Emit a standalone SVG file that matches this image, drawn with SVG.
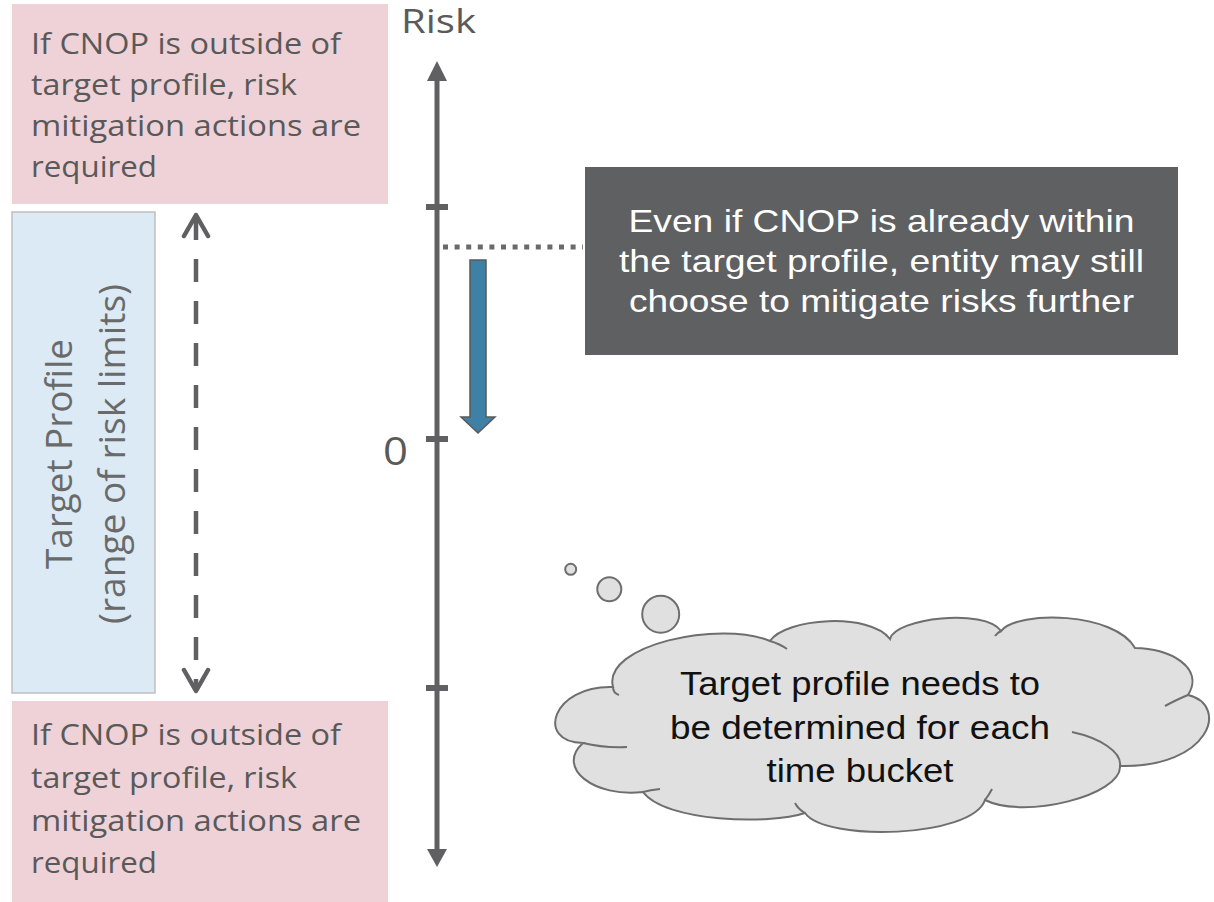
<svg xmlns="http://www.w3.org/2000/svg" width="1214" height="902" viewBox="0 0 1214 902">
<style>
.pink{fill:#efd2d7}
.ptxt{font-family:"Open Sans","DejaVu Sans",sans-serif;font-size:29.5px;fill:#595959}
.rtxt{font-family:"Open Sans","DejaVu Sans",sans-serif;font-size:36px;fill:#6a6a6a;text-anchor:middle}
.axis{stroke:#606063;stroke-width:5;fill:none}
.tick{stroke:#606063;stroke-width:6}
.head{fill:#606063}
.dtxt{font-family:"Liberation Sans",Arial,sans-serif;font-size:30.5px;fill:#ffffff;text-anchor:middle}
.ctxt{font-family:"Liberation Sans",Arial,sans-serif;font-size:32.5px;fill:#111111;text-anchor:middle}
.cloud{fill:#e0e0e0;stroke:#6e6e6e;stroke-width:2}
.inner{fill:none;stroke:#6e6e6e;stroke-width:2}
</style>
<rect width="1214" height="902" fill="#ffffff"/>

<g id="top-note">
<rect class="pink" x="12" y="4" width="376" height="200"/>
<text class="ptxt" x="31" y="54" textLength="310" lengthAdjust="spacingAndGlyphs">If CNOP is outside of</text>
<text class="ptxt" x="31" y="95" textLength="266" lengthAdjust="spacingAndGlyphs">target profile, risk</text>
<text class="ptxt" x="31" y="136" textLength="330" lengthAdjust="spacingAndGlyphs">mitigation actions are</text>
<text class="ptxt" x="31" y="177" textLength="126" lengthAdjust="spacingAndGlyphs">required</text>
</g>

<g id="bottom-note">
<rect class="pink" x="12" y="701" width="376" height="201"/>
<text class="ptxt" x="31" y="745" textLength="310" lengthAdjust="spacingAndGlyphs">If CNOP is outside of</text>
<text class="ptxt" x="31" y="788" textLength="266" lengthAdjust="spacingAndGlyphs">target profile, risk</text>
<text class="ptxt" x="31" y="831" textLength="330" lengthAdjust="spacingAndGlyphs">mitigation actions are</text>
<text class="ptxt" x="31" y="873" textLength="126" lengthAdjust="spacingAndGlyphs">required</text>
</g>

<g id="target-profile">
<rect x="12" y="212" width="143" height="481" fill="#dbeaf4" stroke="#bfbfbf" stroke-width="1.5"/>
<text class="rtxt" transform="translate(72,454) rotate(-90)" textLength="230" lengthAdjust="spacingAndGlyphs">Target Profile</text>
<text class="rtxt" transform="translate(124.5,454) rotate(-90)" textLength="340" lengthAdjust="spacingAndGlyphs">(range of risk limits)</text>
</g>

<g id="labels">
<text x="401" y="33" font-family="'Open Sans','DejaVu Sans',sans-serif" font-size="32" fill="#5a5a5a" textLength="75" lengthAdjust="spacingAndGlyphs">Risk</text>
<text x="383" y="465" font-family="'Open Sans','DejaVu Sans',sans-serif" font-size="39" fill="#5a5a5a" textLength="25" lengthAdjust="spacingAndGlyphs">0</text>
</g>

<g id="connectors">
<line class="axis" x1="437" y1="76" x2="437" y2="853"/>
<polygon class="head" points="437,61 447,81 427,81"/>
<polygon class="head" points="437,867 447,849 427,849"/>
<line class="tick" x1="426" y1="207" x2="448" y2="207"/>
<line class="tick" x1="426" y1="439" x2="448" y2="439"/>
<line class="tick" x1="426" y1="688" x2="448" y2="688"/>
<line x1="196" y1="217" x2="196" y2="690" stroke="#606063" stroke-width="4.5" stroke-dasharray="23 19"/>
<path d="M184,236 L196,215 L208,236 M184,670 L196,691 L208,670" fill="none" stroke="#606063" stroke-width="4.5" stroke-linecap="round" stroke-linejoin="round"/>
<line x1="443" y1="247" x2="583" y2="247" stroke="#6a6a6c" stroke-width="5" stroke-dasharray="5 6.6"/>
<polygon points="470,260 486,260 486,417 495,417 478,433 461,417 470,417" fill="#3f80a6" stroke="#5a5a5a" stroke-width="1.5"/>
</g>

<g id="callout">
<rect x="585" y="167" width="593" height="188" fill="#5f6062"/>
<text class="dtxt" x="881.5" y="232" textLength="506" lengthAdjust="spacingAndGlyphs">Even if CNOP is already within</text>
<text class="dtxt" x="881.5" y="272" textLength="525" lengthAdjust="spacingAndGlyphs">the target profile, entity may still</text>
<text class="dtxt" x="881.5" y="312" textLength="505" lengthAdjust="spacingAndGlyphs">choose to mitigate risks further</text>
</g>

<g id="thought-cloud">
<circle class="cloud" cx="570.7" cy="569.3" r="5.5"/>
<circle class="cloud" cx="609.3" cy="589.3" r="12"/>
<circle class="cloud" cx="660.7" cy="614.3" r="18.5"/>
<path class="cloud" d="M770,641 C785,618 870,612 890,639 C895,618 985,608 1001,631 C1018,610 1115,612 1135,648 C1170,648 1205,668 1188,695 C1230,705 1210,768 1120,766 C1122,795 1025,820 985,800 C972,838 825,842 805,813 C770,825 665,822 643,792 C595,798 555,768 583,743 C535,742 552,685 613,687 C602,645 720,620 770,641 Z"/>
<path class="inner" d="M770,641 Q780,644 787,649 M613,687 Q613,693 619,695 M583,743 Q603,748 627,747 M643,792 Q650,790 660,789 M805,813 Q798,809 795,803 M985,800 Q989,795 992,789 M1120,766 C1122,752 1100,738 1072,732 M1188,695 Q1178,699 1165,706 M1001,631 Q997,633 995,636"/>
<text class="ctxt" x="860" y="695" textLength="360" lengthAdjust="spacingAndGlyphs">Target profile needs to</text>
<text class="ctxt" x="860" y="738.5" textLength="380" lengthAdjust="spacingAndGlyphs">be determined for each</text>
<text class="ctxt" x="860" y="782" textLength="187" lengthAdjust="spacingAndGlyphs">time bucket</text>
</g>
</svg>
